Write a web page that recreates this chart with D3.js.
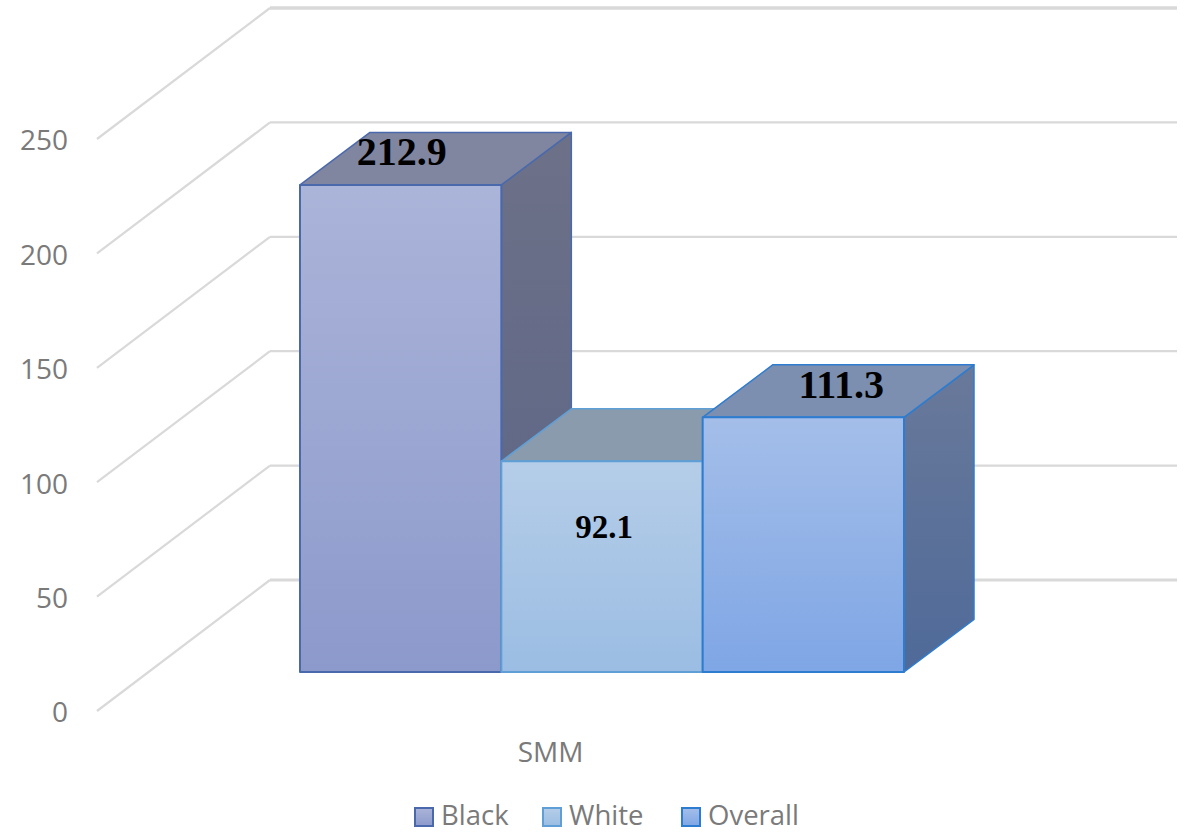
<!DOCTYPE html>
<html>
<head>
<meta charset="utf-8">
<title>SMM by group</title>
<script src="https://cdn.jsdelivr.net/npm/d3@7/dist/d3.min.js"></script>
<style>
  html, body { margin: 0; padding: 0; background: #fff; }
  svg { display: block; }
  text { font-family: "Open Sans", "Noto Sans", sans-serif; fill: #7a7a7a; }
  .value { font-family: "Liberation Serif", serif; font-weight: bold; fill: #000; }
</style>
</head>
<body>
<svg id="chart" width="1186" height="833"></svg>
<script>
const categories = ["SMM"];
const seriesNames = ["Black", "White", "Overall"];
const seriesValues = [212.9, 92.1, 111.3];
const valueTicks = [0, 50, 100, 150, 200, 250];

// Per-series colours: outline, front gradient, top face, side gradient.
const seriesColors = [
  { line: "#4a69ad", front: ["#abb4d9", "#8c99cb"], top: "#80869f", side: ["#6d7188", "#5a6486"] },
  { line: "#5f9fd6", front: ["#b5cde8", "#9bbde3"], top: "#8a9bae", side: ["#7a8ba0", "#667d9d"] },
  { line: "#2e7cd0", front: ["#a4bee9", "#7fa6e5"], top: "#7c8fb0", side: ["#69799a", "#4f6a99"] }
];
// Data label placement relative to the top-centre of each bar's front face.
const labelSizes = [40, 33, 40];
const labelDx = [1, 2, 38];
const labelDy = [-33, 66, -33];

const svg = d3.select("#chart");

// Oblique projection: the floor runs from the front edge to the back wall.
const wallLeft = 270, wallRight = 1177, frontLeft = 97;
const barDepthX = 70, barDepthY = 52.5;

const yBack = d3.scaleLinear().domain([0, 250]).range([580, 8]);
const yFront = d3.scaleLinear().domain([0, 250]).range([711, 139]);
const yBar = d3.scaleLinear().domain([0, 250]).range([672, 100]);

const xCategory = d3.scaleBand().domain(categories).range([97, 1004]);
const xSeries = d3.scaleBand().domain(seriesNames).range([300, 904]);

// Gridlines: a slanted run on the side wall, a level run on the back wall.
const grid = svg.append("g").attr("fill", "none").attr("stroke", "#d9d9d9");
grid.selectAll("line.side")
  .data(valueTicks)
  .join("line")
  .attr("class", "side")
  .attr("stroke-width", 2.2)
  .attr("x1", frontLeft).attr("y1", d => yFront(d))
  .attr("x2", wallLeft).attr("y2", d => yBack(d));
grid.selectAll("line.back")
  .data(valueTicks)
  .join("line")
  .attr("class", "back")
  .attr("stroke-width", d => (d === 250 ? 3.4 : d === 0 ? 2.8 : 2.2))
  .attr("x1", wallLeft).attr("y1", d => yBack(d))
  .attr("x2", wallRight).attr("y2", d => yBack(d));

// Value axis labels
const yAxis = d3.axisLeft(yFront).tickValues(valueTicks).tickSize(0).tickPadding(0);
const axisG = svg.append("g").attr("transform", "translate(68,2)").call(yAxis);
axisG.select(".domain").remove();
axisG.selectAll("text")
  .style("font-family", '"Open Sans", "Noto Sans", sans-serif')
  .style("font-size", "28px")
  .attr("fill", "#7a7a7a");

// Gradients for bar faces
const defs = svg.append("defs");
function addGradient(id, stops) {
  const g = defs.append("linearGradient")
    .attr("id", id).attr("x1", 0).attr("y1", 0).attr("x2", 0).attr("y2", 1);
  g.append("stop").attr("offset", "0%").attr("stop-color", stops[0]);
  g.append("stop").attr("offset", "100%").attr("stop-color", stops[1]);
}
seriesColors.forEach((c, i) => {
  addGradient("front" + i, c.front);
  addGradient("side" + i, c.side);
});

// Bars are painted left to right so later prisms overlap earlier ones.
const bars = svg.append("g").selectAll("g")
  .data(seriesValues)
  .join("g")
  .attr("stroke-linejoin", "round");

const poly = pts => pts.map(p => p.join(",")).join(" ");

bars.each(function (v, i) {
  const g = d3.select(this);
  const c = seriesColors[i];
  const x0 = xSeries(seriesNames[i]);
  const x1 = x0 + xSeries.bandwidth();
  const yT = yBar(v), yB = yBar(0);

  g.append("polygon")
    .attr("points", poly([[x1, yT], [x1 + barDepthX, yT - barDepthY], [x1 + barDepthX, yB - barDepthY], [x1, yB]]))
    .attr("fill", `url(#side${i})`)
    .attr("stroke", c.line).attr("stroke-width", 1.5);
  g.append("polygon")
    .attr("points", poly([[x0, yT], [x0 + barDepthX, yT - barDepthY], [x1 + barDepthX, yT - barDepthY], [x1, yT]]))
    .attr("fill", c.top)
    .attr("stroke", c.line).attr("stroke-width", 1.5);
  g.append("rect")
    .attr("x", x0).attr("y", yT)
    .attr("width", x1 - x0).attr("height", yB - yT)
    .attr("fill", `url(#front${i})`)
    .attr("stroke", c.line).attr("stroke-width", 2);
});

// Data labels
svg.append("g").selectAll("text")
  .data(seriesValues)
  .join("text")
  .attr("class", "value")
  .attr("text-anchor", "middle")
  .attr("dominant-baseline", "central")
  .attr("x", (d, i) => xSeries(seriesNames[i]) + xSeries.bandwidth() / 2 + labelDx[i])
  .attr("y", (d, i) => yBar(d) + labelDy[i])
  .style("font-size", (d, i) => labelSizes[i] + "px")
  .text(d => d.toFixed(1));

// Category label
svg.append("text")
  .attr("x", xCategory(categories[0]) + xCategory.bandwidth() / 2)
  .attr("y", 762)
  .attr("text-anchor", "middle")
  .style("font-size", "28px")
  .text(categories[0]);

// Legend
const legendX = [415, 543, 682];
const legend = svg.append("g").selectAll("g")
  .data(seriesNames)
  .join("g")
  .attr("transform", (d, i) => `translate(${legendX[i]},817)`);
legend.append("rect")
  .attr("x", 0).attr("y", -9).attr("width", 18).attr("height", 18)
  .attr("fill", (d, i) => `url(#front${i})`)
  .attr("stroke", (d, i) => seriesColors[i].line)
  .attr("stroke-width", 2);
legend.append("text")
  .attr("x", 26).attr("y", 8)
  .style("font-size", "27.5px")
  .text(d => d);
</script>
</body>
</html>
